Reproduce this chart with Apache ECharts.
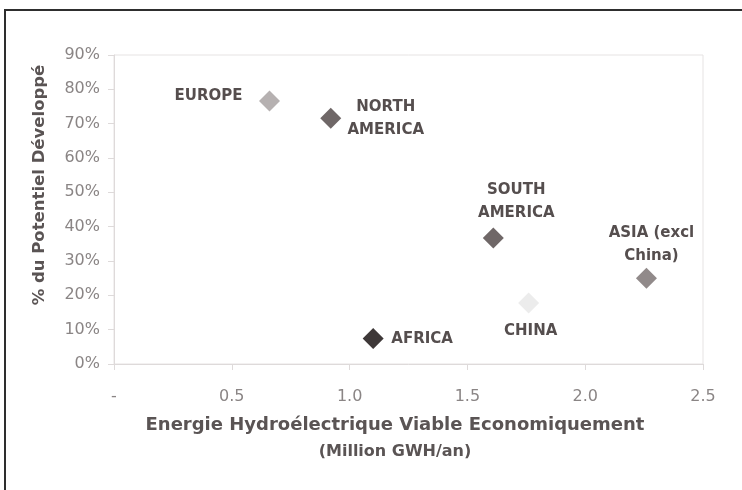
<!DOCTYPE html>
<html>
<head>
<meta charset="utf-8">
<script src="https://cdn.jsdelivr.net/npm/echarts@6/dist/echarts.min.js"></script>
<style>
  html, body { margin: 0; padding: 0; background: #fff; }
  #chart_container { width: 742px; height: 490px; }
</style>
</head>
<body>
<div id="chart_container"></div>
<script>
// values
var regions = ['EUROPE', 'NORTH\nAMERICA', 'SOUTH\nAMERICA', 'CHINA', 'ASIA (excl\nChina)', 'AFRICA'];
var energy = [0.66, 0.92, 1.61, 1.76, 2.26, 1.10];      // million GWh/an
var developed = [76.6, 71.6, 36.7, 17.8, 25.0, 7.4];    // % developed
var xTicks = ['-', '0.5', '1.0', '1.5', '2.0', '2.5'];

// styling per point (kept apart from the data)
var markColors = ['#b6b1b1', '#6f6767', '#6f6767', '#ececec', '#918a8a', '#3e3838'];
var labelOffsets = [[-61, -5], [55, 0], [23, -36], [2, 28], [5, -34], [49, 1]];

function render_chart() {
    var dom = document.getElementById('chart_container');
    var myChart = echarts.init(dom);
    var points = regions.map(function (name, i) {
        return {
            name: name,
            value: [energy[i], developed[i]],
            itemStyle: { color: markColors[i], opacity: 1 },
            label: { offset: labelOffsets[i] }
        };
    });
    var option = {
        animation: false,
        textStyle: { fontFamily: 'DejaVu Sans' },
        graphic: [{
            type: 'rect',
            shape: { x: 5, y: 10, width: 800, height: 600 },
            style: { fill: 'none', stroke: '#2e2e2e', lineWidth: 2 }
        }, {
            type: 'text',
            x: 395, y: 425,
            style: {
                text: 'Energie Hydroélectrique Viable Economiquement',
                fontFamily: 'DejaVu Sans', fontSize: 18, fontWeight: 'bold',
                fill: '#5a5454', align: 'center', verticalAlign: 'middle'
            }
        }, {
            type: 'text',
            x: 395, y: 452,
            style: {
                text: '(Million GWH/an)',
                fontFamily: 'DejaVu Sans', fontSize: 16, fontWeight: 'bold',
                fill: '#5a5454', align: 'center', verticalAlign: 'middle'
            }
        }, {
            type: 'text',
            x: 40, y: 185,
            rotation: Math.PI / 2,
            style: {
                text: '% du Potentiel Développé',
                fontFamily: 'DejaVu Sans', fontSize: 16.5, fontWeight: 'bold',
                fill: '#5a5454', align: 'center', verticalAlign: 'middle'
            }
        }],
        grid: {
            left: 114, right: 39, top: 55, bottom: 126,
            show: true, borderColor: '#e6e3e3', borderWidth: 1
        },
        xAxis: {
            type: 'value',
            min: 0, max: 2.5, interval: 0.5,
            axisLine: { lineStyle: { color: '#dedada' } },
            axisTick: { show: true, length: 6, lineStyle: { color: '#dedada' } },
            splitLine: { show: false },
            axisLabel: {
                color: '#8a8585', fontSize: 16, margin: 25,
                formatter: function (v) { return xTicks[Math.round(v / 0.5)]; }
            }
        },
        yAxis: {
            type: 'value',
            min: 0, max: 90, interval: 10,
            axisLine: { show: true, lineStyle: { color: '#dedada' } },
            axisTick: { show: true, length: 6, lineStyle: { color: '#dedada' } },
            splitLine: { show: false },
            axisLabel: { color: '#8a8585', fontSize: 16, margin: 14, formatter: '{value}%' }
        },
        series: [{
            type: 'scatter',
            symbol: 'diamond',
            symbolSize: 21,
            data: points,
            label: {
                show: true,
                position: 'inside',
                align: 'center',
                verticalAlign: 'middle',
                formatter: '{b}',
                color: '#554e4e',
                fontSize: 15,
                fontWeight: 'bold',
                lineHeight: 23
            }
        }]
    };
    myChart.setOption(option, true);
}
render_chart();
</script>
</body>
</html>
